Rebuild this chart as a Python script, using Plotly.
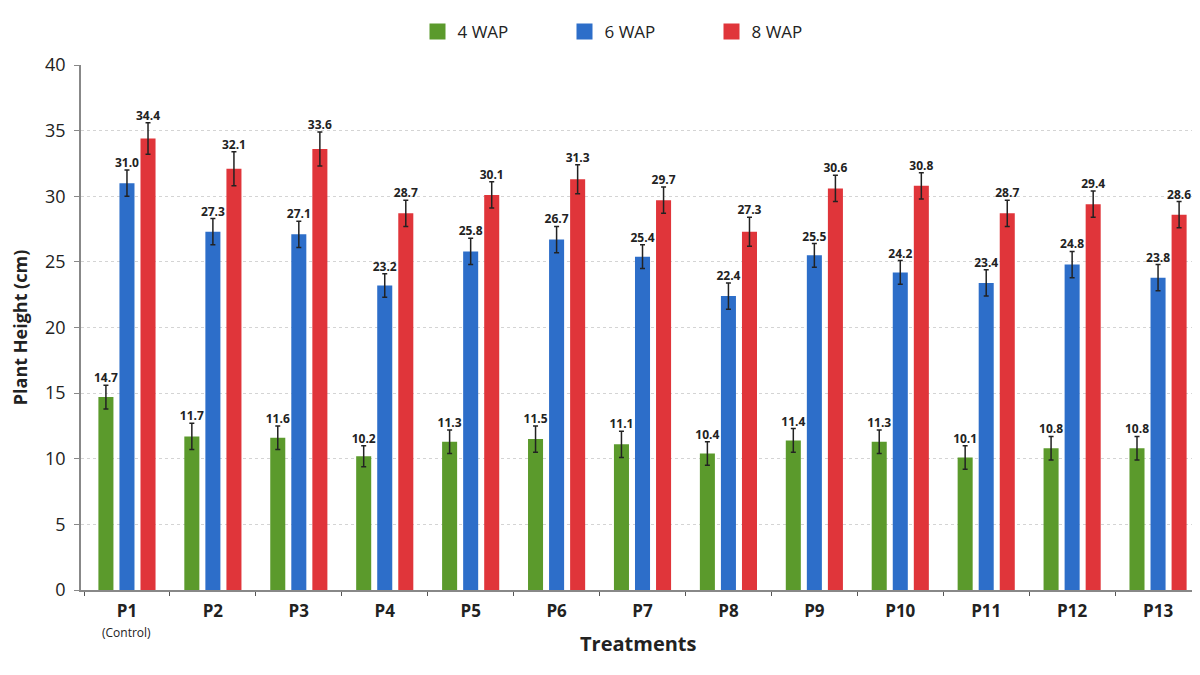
import plotly.graph_objects as go

# treatments on the x axis
treatments = ['P1', 'P2', 'P3', 'P4', 'P5', 'P6', 'P7', 'P8', 'P9', 'P10', 'P11', 'P12', 'P13']
tick_text = ['<b>%s</b>' % t for t in treatments]

# mean plant height (cm)
wap4 = [14.7, 11.7, 11.6, 10.2, 11.3, 11.5, 11.1, 10.4, 11.4, 11.3, 10.1, 10.8, 10.8]
wap6 = [31.0, 27.3, 27.1, 23.2, 25.8, 26.7, 25.4, 22.4, 25.5, 24.2, 23.4, 24.8, 23.8]
wap8 = [34.4, 32.1, 33.6, 28.7, 30.1, 31.3, 29.7, 27.3, 30.6, 30.8, 28.7, 29.4, 28.6]

# error bars (cm)
err4 = [0.9, 1.0, 0.9, 0.8, 0.9, 1.0, 1.0, 0.9, 0.9, 0.9, 0.9, 0.9, 0.9]
err6 = [1.0, 1.0, 1.0, 0.9, 1.0, 1.0, 0.9, 1.0, 0.9, 0.9, 1.0, 1.0, 1.0]
err8 = [1.2, 1.3, 1.3, 1.0, 1.0, 1.1, 1.0, 1.1, 1.0, 1.0, 1.0, 1.0, 1.0]

series = [
    ('4 WAP', wap4, err4, '#5b9a2c', -0.245),
    ('6 WAP', wap6, err6, '#2d6ec9', 0.0),
    ('8 WAP', wap8, err8, '#e0353a', 0.245),
]

idx = list(range(len(treatments)))
fig = go.Figure()

for name, vals, errs, color, off in series:
    xs = [i + off for i in idx]
    fig.add_trace(go.Bar(
        x=xs, y=vals, name=name, width=0.175, showlegend=False,
        marker=dict(color=color, line=dict(width=0)),
        error_y=dict(type='data', array=errs, color='#222222', thickness=1.5, width=2.5),
    ))
    fig.add_trace(go.Scatter(
        x=xs, y=[v + e for v, e in zip(vals, errs)],
        mode='text', text=['%.1f' % v for v in vals],
        textposition='top center',
        textfont=dict(family='Open Sans', size=12, color='#222222', weight='bold'),
        showlegend=False, hoverinfo='skip', cliponaxis=False,
    ))
    # legend entry with a bigger square swatch
    fig.add_trace(go.Scatter(
        x=[None], y=[None], mode='markers', name=name,
        marker=dict(symbol='square', size=19, color=color),
    ))

fig.add_annotation(x=0, y=0, xref='x', yref='paper', yanchor='middle', yshift=-42,
                   text='(Control)', showarrow=False, font=dict(size=12, color='#222222'))
fig.add_annotation(x=0.5, y=0, xref='paper', yref='paper', yanchor='middle', yshift=-53,
                   text='<b>Treatments</b>', showarrow=False, font=dict(size=20, color='#222222'))

# the page adds an 8px body margin, so the figure is a bit smaller than the window
fig.update_layout(
    width=1192, height=667,
    template='plotly_white',
    plot_bgcolor='white', paper_bgcolor='white',
    font=dict(family='Open Sans', color='#222222'),
    margin=dict(l=73, r=5, t=57, b=85, autoexpand=False),
    barmode='overlay',
    legend=dict(orientation='h', x=0.50, xanchor='center', y=1.063, yanchor='middle',
                font=dict(size=17), itemwidth=30, entrywidth=102, entrywidthmode='pixels',
                traceorder='normal'),
    xaxis=dict(
        range=[-0.535, 12.43], automargin=False,
        tickvals=idx, ticktext=tick_text,
        tickfont=dict(size=17, color='#222222'), ticklabelstandoff=5,
        ticks='', showgrid=False, zeroline=False,
        showline=True, linecolor='#888888', linewidth=1.5,
        minor=dict(tick0=0.5, dtick=1, ticks='outside', ticklen=4, tickcolor='#555555', showgrid=False),
    ),
    yaxis=dict(
        range=[0, 40], dtick=5, automargin=False,
        tickfont=dict(size=18, color='#222222'), ticklabelstandoff=5,
        ticks='outside', ticklen=5, tickcolor='#888888',
        showgrid=True, gridcolor='#d4d4d4', griddash='dot', gridwidth=1,
        zeroline=False, showline=True, linecolor='#888888', linewidth=1.5,
        title=dict(text='<b>Plant Height (cm)</b>', font=dict(size=18), standoff=16),
    ),
)

fig.write_html('out.html')
